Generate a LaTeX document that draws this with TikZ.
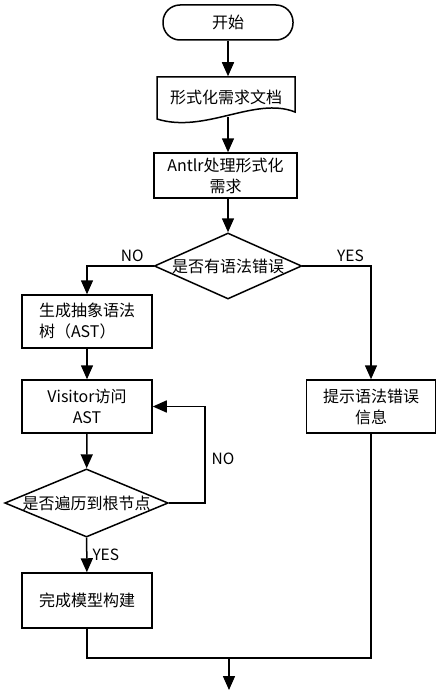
\documentclass[tikz,border=0pt]{standalone}
\usepackage{fontspec}
\setmainfont{Noto Sans CJK SC}
\usetikzlibrary{arrows.meta, shapes.geometric, positioning}

\begin{document}
\begin{tikzpicture}[x=1pt, y=-1pt, line width=1.5pt,
  stepbox/.style={draw, minimum width=130pt, minimum height=53pt, align=center,
    inner sep=2pt, font=\fontsize{16}{21}\selectfont},
  decide/.style={draw, diamond, aspect=2.4, inner sep=0pt,
    font=\fontsize{16}{21}\selectfont},
  lbl/.style={font=\fontsize{15.5}{17}\selectfont, inner sep=2pt},
  flow/.style={-{Triangle[length=14pt, width=12pt]}}]
  \useasboundingbox[fill=white] (0,0) rectangle (436,690);
  % start and input document
  \node[draw, rounded corners=17pt, minimum width=130pt, minimum height=35pt,
    font=\fontsize{16}{21}\selectfont] (start) at (228,22.5) {开始};
  \node[minimum width=138pt, minimum height=41pt, font=\fontsize{16}{21}\selectfont]
    (doc) at (226,97.5) {形式化需求文档};
  \draw (157,77) -- (295,77) -- (295,112)
    .. controls (255,96) and (205,134) .. (157,119) -- cycle;
  \node[stepbox, minimum width=143pt, minimum height=45pt] (antlr) at (225.5,175.5)
    {Antlr处理形式化\\需求};
  % syntax check
  \node[decide, minimum width=145pt, minimum height=66pt] (check) at (228,266) {是否有语法错误};
  \node[stepbox, align=left] (ast) at (87,321.5) {生成抽象语法\\树（AST）};
  \node[stepbox] (visit) at (87,406.5) {Visitor访问\\AST};
  \node[stepbox, minimum width=129pt] (hint) at (371,406.5) {提示语法错误\\信息};
  \node[decide, minimum width=154pt, minimum height=65pt] (root) at (86.5,503) {是否遍历到根节点};
  \node[stepbox, minimum height=55pt] (done) at (87,600.5) {完成模型构建};
  \coordinate (join) at (229,658);
  \coordinate (end) at (229,690);
  % connectors
  \draw[flow] (start) -- (start |- doc.north);
  \draw[flow] (228,117) -- (antlr.north -| 228,0);
  \draw[flow] (antlr.south -| 228,0) -- (check.north);
  \draw[flow] (check.west) -| node[lbl, pos=0.16, above=2pt] {NO} (ast.north);
  \draw[flow] (check.east) -| node[lbl, pos=0.35, above=2pt] {YES} (hint.north);
  \draw[flow] (ast) -- (visit);
  \draw[flow] (visit) -- (root);
  \draw[flow] (root.east) -- ++(36,0) |- node[lbl, pos=0.23, right=4pt] {NO} (visit.east);
  \draw[flow] (root) -- node[lbl, right=3pt] {YES} (done);
  \draw (done.south) |- (join);
  \draw (hint.south) |- (join);
  \draw[flow] (join) -- (end);
\end{tikzpicture}
\end{document}
